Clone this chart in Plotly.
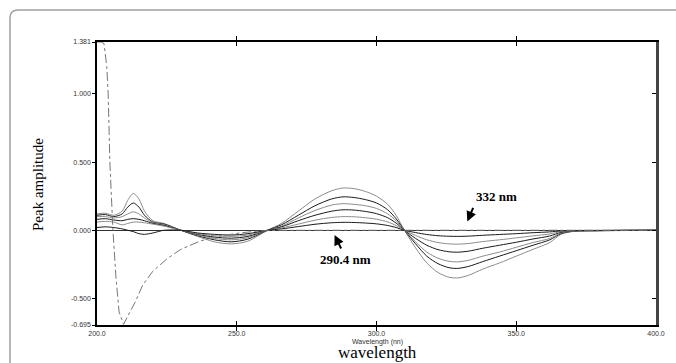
import plotly.graph_objects as go

# ---------------- data ----------------
wl = [200, 203, 206, 209, 211, 213, 215, 217, 220, 224, 230, 236, 242, 248, 254, 261,
      266, 272, 278, 284, 288, 292, 296, 300, 304, 307, 310, 314, 318, 322, 326, 329,
      333, 338, 344, 350, 356, 362, 366, 370, 380, 390, 400]

c1 = [0.12, 0.125, 0.11, 0.14, 0.22, 0.27, 0.23, 0.14, 0.07, 0.05, 0.0, -0.045, -0.085, -0.10, -0.08, 0.0,
      0.05, 0.14, 0.23, 0.29, 0.31, 0.305, 0.285, 0.25, 0.19, 0.11, 0.0, -0.13, -0.24, -0.31, -0.345, -0.35,
      -0.33, -0.285, -0.24, -0.19, -0.14, -0.09, -0.03, -0.01, -0.004, -0.002, 0.0]
c2 = [0.11, 0.115, 0.10, 0.12, 0.17, 0.20, 0.17, 0.11, 0.06, 0.045, 0.0, -0.04, -0.07, -0.085, -0.065, 0.0,
      0.04, 0.11, 0.18, 0.23, 0.245, 0.24, 0.225, 0.20, 0.15, 0.085, 0.0, -0.10, -0.19, -0.245, -0.275, -0.28,
      -0.265, -0.23, -0.19, -0.15, -0.11, -0.07, -0.025, -0.008, -0.003, -0.001, 0.0]
c3 = [0.10, 0.10, 0.09, 0.10, 0.12, 0.135, 0.12, 0.09, 0.055, 0.04, 0.0, -0.035, -0.06, -0.07, -0.055, 0.0,
      0.03, 0.09, 0.145, 0.185, 0.195, 0.19, 0.18, 0.16, 0.12, 0.07, 0.0, -0.085, -0.16, -0.205, -0.228, -0.232,
      -0.22, -0.19, -0.16, -0.125, -0.09, -0.06, -0.02, -0.007, -0.003, -0.001, 0.0]
c4 = [0.08, 0.085, 0.075, 0.07, 0.08, 0.085, 0.08, 0.07, 0.05, 0.035, 0.0, -0.03, -0.05, -0.058, -0.045, 0.0,
      0.025, 0.07, 0.11, 0.14, 0.15, 0.148, 0.138, 0.122, 0.092, 0.053, 0.0, -0.06, -0.11, -0.142, -0.158, -0.161,
      -0.153, -0.132, -0.11, -0.088, -0.064, -0.042, -0.015, -0.005, -0.002, -0.001, 0.0]
c5 = [0.06, 0.065, 0.06, 0.04, 0.05, 0.06, 0.06, 0.055, 0.045, 0.03, 0.0, -0.025, -0.04, -0.045, -0.035, 0.0,
      0.017, 0.045, 0.074, 0.094, 0.10, 0.099, 0.092, 0.081, 0.061, 0.035, 0.0, -0.038, -0.07, -0.09, -0.10, -0.102,
      -0.097, -0.083, -0.07, -0.056, -0.041, -0.027, -0.01, -0.004, -0.002, -0.001, 0.0]
c6 = [0.02, 0.025, 0.02, 0.01, 0.0, -0.01, -0.025, -0.03, -0.02, 0.0, 0.0, -0.02, -0.03, -0.035, -0.025, 0.0,
      0.01, 0.027, 0.044, 0.055, 0.058, 0.057, 0.053, 0.047, 0.035, 0.02, 0.0, -0.017, -0.031, -0.04, -0.044, -0.045,
      -0.043, -0.037, -0.031, -0.025, -0.018, -0.012, -0.005, -0.002, -0.001, 0.0, 0.0]

ref_wl = [200, 201.5, 202.5, 203.5, 204, 204.6, 205.7, 206.8, 207.9, 209.5, 211, 213.6, 216.4,
          220, 225, 230, 236.8, 243, 251, 258, 265, 290.4, 332, 360, 400]
ref_y = [1.381, 1.381, 1.37, 1.2, 1.0, 0.5, 0.0, -0.35, -0.6, -0.69, -0.63, -0.53, -0.40,
         -0.30, -0.21, -0.14, -0.08, -0.045, -0.02, -0.005, 0.0, 0.0, 0.0, 0.0, 0.0]

y_tickvals = [-0.695, -0.5, 0.0, 0.5, 1.0, 1.381]
y_ticktext = ["-0.695", "-0.500", "0.000", "0.500", "1.000", "1.381"]
x_tickvals = [200, 250, 300, 350, 400]
x_ticktext = ["200.0", "250.0", "300.0", "350.0", "400.0"]

series = [c1, c2, c3, c4, c5, c6]
colors = ["#8c8c8c", "#1a1a1a", "#8c8c8c", "#1a1a1a", "#8c8c8c", "#1a1a1a"]

# ---------------- figure ----------------
fig = go.Figure()
for s, col in zip(series, colors):
    fig.add_trace(go.Scatter(x=wl, y=s, mode="lines",
                             line=dict(color=col, width=1, shape="spline", smoothing=0.8),
                             showlegend=False, hoverinfo="skip"))
fig.add_trace(go.Scatter(x=ref_wl, y=ref_y, mode="lines",
                         line=dict(color="#777777", width=1, dash="dashdot"),
                         showlegend=False, hoverinfo="skip"))
# dummy trace for the right-hand mirror axis
fig.add_trace(go.Scatter(x=[200], y=[0], yaxis="y2", mode="markers",
                         marker=dict(opacity=0), showlegend=False, hoverinfo="skip"))

L, R, T, B = 97, 20, 42, 38
W, H = 676, 363
pw, ph = W - L - R, H - T - B

def px(x):
    return (x - L) / pw

def py(y):
    return (H - B - y) / ph

tickfont = dict(family="Liberation Sans, Arial", size=7, color="#333")
fig.update_layout(
    width=W, height=H,
    margin=dict(l=L, r=R, t=T, b=B),
    paper_bgcolor="white", plot_bgcolor="white",
    xaxis=dict(range=[200, 400], tickvals=x_tickvals, ticktext=x_ticktext,
               ticks="inside", ticklen=4, tickcolor="black", mirror="allticks",
               showline=True, linecolor="black", linewidth=1.5,
               showgrid=False, zeroline=False, tickfont=tickfont,
               ticklabelstandoff=1),
    yaxis=dict(range=[-0.695, 1.381], tickvals=y_tickvals, ticktext=y_ticktext,
               ticks="outside", ticklen=3, tickcolor="black",
               showline=True, linecolor="black", linewidth=1.5,
               showgrid=False, zeroline=True, zerolinecolor="#333", zerolinewidth=1,
               tickfont=tickfont, ticklabelstandoff=0),
    yaxis2=dict(range=[-0.695, 1.381], tickvals=y_tickvals, overlaying="y", side="right",
                ticks="inside", ticklen=4, tickcolor="black", showticklabels=False,
                showline=True, linecolor="#444", linewidth=2.5,
                showgrid=False, zeroline=False),
)

# rounded frame around the figure
x0 = px(10)
y0 = py(10)
r_x = 8 / pw
r_y = 8 / ph
fig.add_shape(type="path", xref="paper", yref="paper",
              path=f"M {x0},{py(370)} L {x0},{y0 - r_y} Q {x0},{y0} {x0 + r_x},{y0} L {px(690)},{y0}",
              line=dict(color="#a0a0a0", width=1.5))

# axis titles
fig.add_annotation(xref="paper", yref="paper", x=px(377), y=py(341.5),
                   xanchor="center", yanchor="middle",
                   text="Wavelength (nn)", showarrow=False,
                   font=dict(family="Liberation Sans, Arial", size=7, color="#333"))
fig.add_annotation(xref="paper", yref="paper", x=px(377), y=py(352.5),
                   xanchor="center", yanchor="middle",
                   text="wavelength", showarrow=False,
                   font=dict(family="Liberation Serif, Times New Roman", size=17, color="black"))
fig.add_annotation(xref="paper", yref="paper", x=px(38), y=py(185),
                   xanchor="center", yanchor="middle",
                   text="Peak amplitude", showarrow=False, textangle=-90,
                   font=dict(family="Liberation Serif, Times New Roman", size=15, color="black"))

# peak labels with arrows
fig.add_annotation(x=285, y=-0.035, ax=287.6, ay=-0.145, axref="x", ayref="y",
                   text="", showarrow=True, arrowhead=2, arrowsize=1, arrowwidth=2, arrowcolor="black")
fig.add_annotation(x=289, y=-0.215, text="<b>290.4 nm</b>", showarrow=False,
                   font=dict(family="Liberation Serif, Times New Roman", size=13, color="black"))
fig.add_annotation(x=332.5, y=0.065, ax=334.8, ay=0.175, axref="x", ayref="y",
                   text="", showarrow=True, arrowhead=2, arrowsize=1, arrowwidth=2, arrowcolor="black")
fig.add_annotation(x=343, y=0.245, text="<b>332 nm</b>", showarrow=False,
                   font=dict(family="Liberation Serif, Times New Roman", size=13, color="black"))

fig.write_html("out.html", config={"displayModeBar": False},
               post_script="document.body.style.margin='0';document.body.style.overflow='hidden';")
